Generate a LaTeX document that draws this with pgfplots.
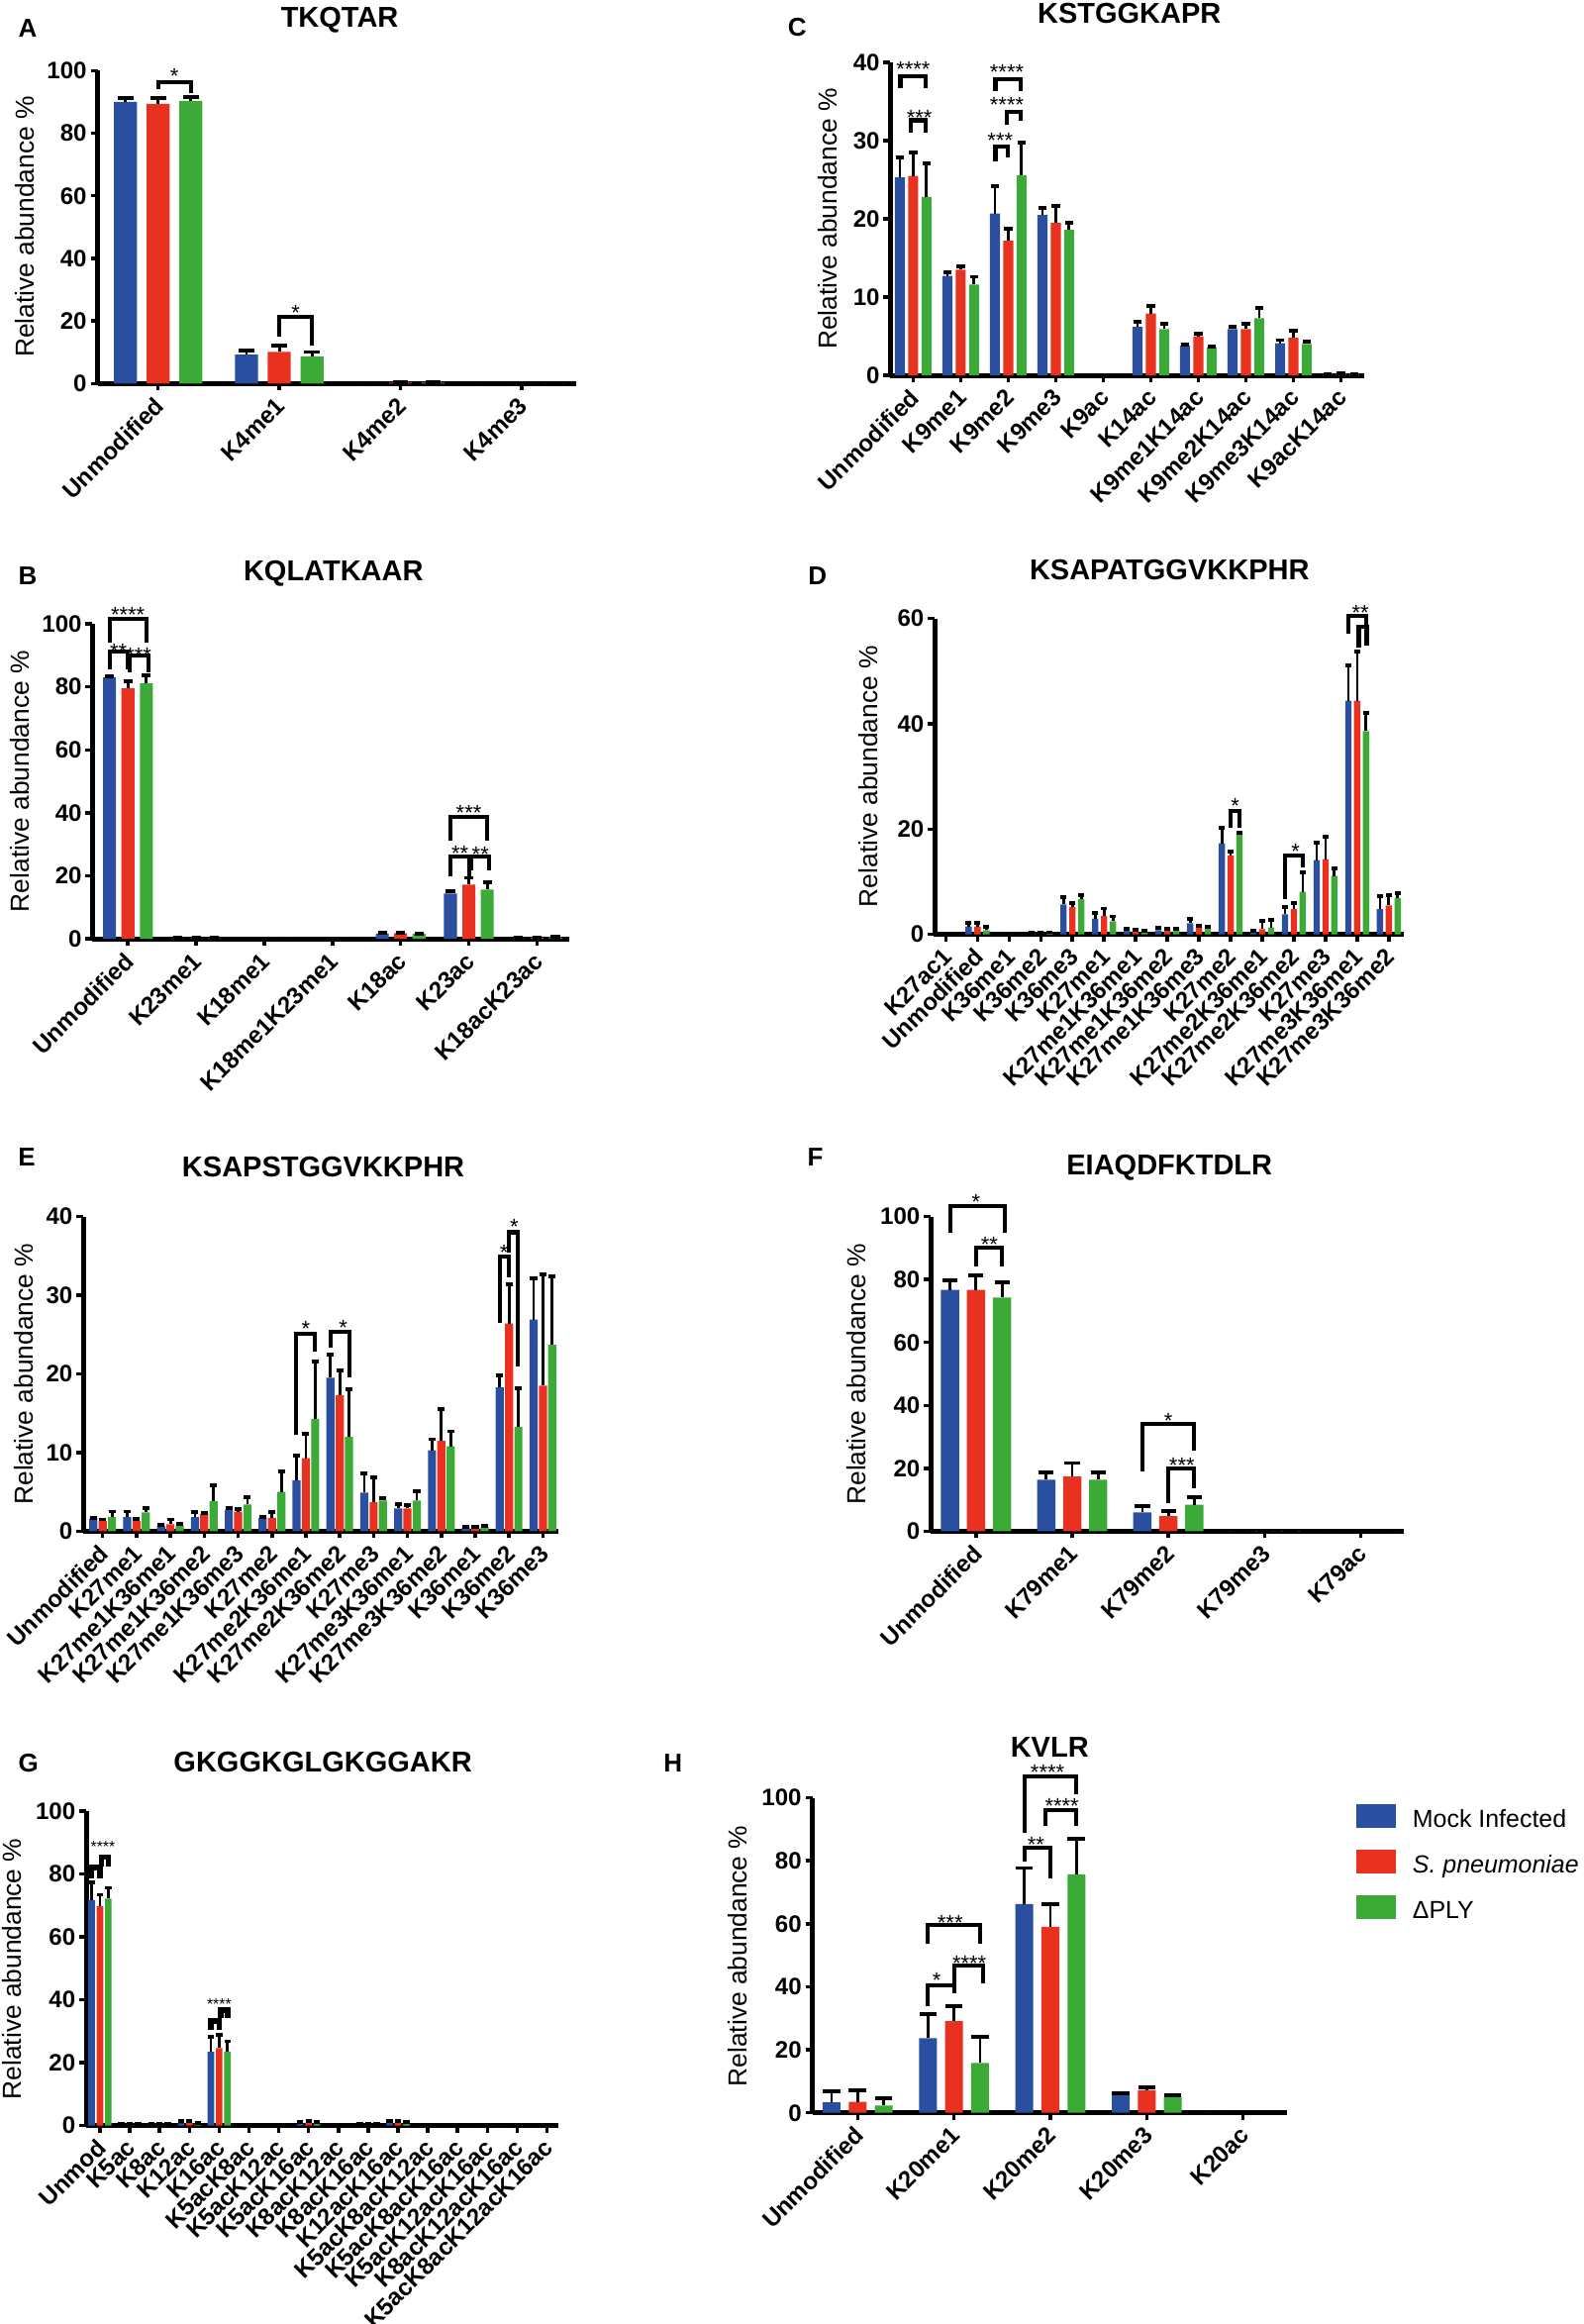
\documentclass[border=0pt]{standalone}
\usepackage{fontspec}
\setmainfont{Liberation Sans}
\usepackage{pgfplots}
\usepackage{pgfplotstable}
\pgfplotsset{compat=1.18}
\definecolor{cblue}{HTML}{2B4FA0}
\definecolor{cred}{HTML}{E8321F}
\definecolor{cgreen}{HTML}{3CAA37}
\newcommand\tickf{\fontsize{13.7}{15}\selectfont\bfseries}
\newcommand\ylabf{\fontsize{15}{17}\selectfont}
\newcommand\titf{\fontsize{16.5}{18}\selectfont\bfseries}
\newcommand\letf{\fontsize{14.8}{16}\selectfont\bfseries}
\newcommand\legf{\fontsize{14.2}{16}\selectfont}
\newcommand\starf{\fontsize{12.5}{14}\selectfont}
\newcommand\smstarf{\fontsize{9}{10}\selectfont}
\newcommand\brklw{2.3pt}

\pgfplotsset{
  gp/.style={
    scale only axis, anchor=south west, clip=false,
    axis x line*=bottom, axis y line*=left,
    axis line style={-, line width=2.8pt},
    ymin=0, enlargelimits=false,
    tick align=outside, major tick length=0.14cm,
    every tick/.style={black, line width=2pt},
    minor tick num=0,
    ybar, bar shift=0pt,
    error bars/y dir=plus, error bars/y explicit,
    error bars/error bar style={line width=1.6pt, black},
    /pgf/number format/assume math mode=true,
    yticklabel style={font=\tickf, inner sep=2pt},
    xticklabel style={font=\tickf, xshift=0.06cm, yshift=-0.2cm, rotate=45, anchor=east, inner sep=1pt},
  },
  cap/.style={error bars/error mark options={rotate=90, line width=2.2pt, black, mark size=#1}},
}
\tikzset{
  brk/.style={line width=\brklw, black},
  st/.style={font=\starf, inner sep=0pt, yshift=-0.1cm},
}
\newcommand{\off}{0.27}
\newcommand{\bars}[1]{%
 \addplot[fill=cblue, draw=none, bar shift=0pt] table[x expr=\thisrow{x}-\off, y=b, y error=be]{#1};
 \addplot[fill=cred, draw=none, bar shift=0pt] table[x=x, y=r, y error=re]{#1};
 \addplot[fill=cgreen, draw=none, bar shift=0pt] table[x expr=\thisrow{x}+\off, y=g, y error=ge]{#1};
}
\newcommand{\brk}[5]{\draw[brk] (axis cs:#1,#2) -- (axis cs:#1,#5) -- (axis cs:#3,#5) -- (axis cs:#3,#4);}
\newcommand{\sig}[3]{\node[st] at (axis cs:#1,#2) {#3};}

\pgfplotstableread{
x b be r re g ge
0 90.0 1.1 89.4 1.9 90.3 1.3
1 9.3 1.2 10.1 2.0 8.7 1.4
2 0.0 0.0 0.3 0.1 0.3 0.1
3 0 0 0 0 0 0
}\tA
\pgfplotstableread{
x b be r re g ge
0 25.3 2.6 25.5 3.0 22.8 4.3
1 12.7 0.5 13.5 0.4 11.6 1.0
2 20.7 3.5 17.2 1.5 25.6 4.1
3 20.5 0.9 19.5 2.1 18.6 0.9
4 0 0 0 0 0 0
5 6.2 0.7 7.9 1.0 5.9 0.7
6 3.8 0.1 5.0 0.3 3.6 0.1
7 5.9 0.3 5.9 0.7 7.3 1.3
8 4.1 0.4 4.8 0.9 4.0 0.3
9 0.1 0.05 0.2 0.05 0.1 0.05
}\tC
\pgfplotstableread{
x b be r re g ge
0 83.0 0.4 79.5 2.4 81.1 2.6
1 0.2 0.1 0.2 0.1 0.2 0.1
2 0 0 0 0 0 0
3 0 0 0 0 0 0
4 1.7 0.3 1.8 0.2 1.7 0
5 14.4 0.8 17.2 2.2 15.7 2.3
6 0.2 0.1 0.4 0.1 0.5 0.1
}\tB
\pgfplotstableread{
x b be r re g ge
0 0 0 0 0 0 0
1 1.5 0.7 1.5 0.7 0.8 0.7
2 0.1 0.05 0.1 0.05 0.1 0.05
3 0.2 0.1 0.2 0.1 0.3 0.1
4 5.7 1.4 5.2 0.8 6.7 0.8
5 3.0 1.0 3.5 1.4 2.5 0.9
6 0.8 0.3 0.5 0.3 0.5 0.2
7 0.8 0.4 0.8 0.2 0.8 0.2
8 2.1 0.9 1.3 0.4 1.1 0.4
9 17.3 2.9 15.0 0.8 19.2 0.1
10 0.5 0.2 1.0 1.5 1.3 1.5
11 3.8 1.4 4.8 1.2 8.1 3.7
12 14.1 3.4 14.3 4.3 11.1 1.5
13 44.4 6.7 44.4 9.4 38.6 3.5
14 4.8 2.5 5.5 1.9 6.9 1.0
}\tD
\pgfplotstableread{
x b be r re g ge
0 1.6 0.1 1.3 0.2 1.8 0.7
1 1.8 0.7 1.3 0.3 2.4 0.5
2 0.7 0.1 0.9 0.6 0.7 0.2
3 1.8 0.6 2.2 0.1 3.8 2.0
4 2.7 0.2 2.5 0.3 3.4 0.9
5 1.7 0.1 1.7 0.7 5.0 2.6
6 6.5 3.1 9.3 3.1 14.3 7.3
7 19.5 3.0 17.3 3.1 12.0 6.1
8 4.9 2.5 3.7 3.1 3.9 0.3
9 2.9 0.5 2.9 0.4 3.9 1.2
10 10.3 1.4 11.5 4.0 10.8 1.9
11 0.4 0.2 0.4 0.2 0.5 0.2
12 18.3 1.5 26.4 5.0 13.3 4.9
13 26.9 5.2 18.5 14.2 23.7 8.7
}\tE
\pgfplotstableread{
x b be r re g ge
0 76.7 3.1 76.7 4.5 74.3 4.9
1 16.4 2.3 17.4 4.3 16.4 2.3
2 6.0 1.9 4.8 1.7 8.4 2.4
3 0.2 0.05 0.2 0.05 0.2 0.05
4 0 0 0 0 0 0
}\tF
\pgfplotstableread{
x b be r re g ge
0 71.7 5.7 69.8 3.6 72.2 3.4
1 0.3 0.1 0.3 0.1 0.3 0.1
2 0.4 0.1 0.3 0.1 0.3 0.1
3 0.7 0.6 0.8 0.6 0.5 0.4
4 23.4 4.9 24.6 4.1 23.4 3.4
5 0 0 0 0 0 0
6 0.2 0.1 0.2 0.1 0.2 0.1
7 0.5 0.5 0.8 0.5 0.6 0.4
8 0 0 0 0 0 0
9 0.3 0.1 0.3 0.1 0.3 0.1
10 0.9 0.5 1.0 0.4 0.7 0.4
11 0 0 0 0 0 0
12 0 0 0 0 0 0
13 0.2 0.1 0.2 0.1 0.2 0.1
14 0.1 0.05 0.2 0.1 0.1 0.05
15 0 0 0 0 0 0
}\tG
\pgfplotstableread{
x b be r re g ge
0 3.3 3.6 3.5 3.6 2.3 2.4
1 23.7 7.6 29.1 4.8 15.8 8.2
2 66.3 11.4 59.0 7.3 75.7 11.3
3 5.7 0.6 7.2 1.0 5.1 0.6
4 0.3 0.1 0 0 0 0
}\tH

\begin{document}
\begin{tikzpicture}
\path[use as bounding box] (0,0) rectangle (31.98cm,-46.94cm);

% ---------- A ----------
\renewcommand{\off}{0.27}
\begin{axis}[gp, cap=4.5pt, at={(1.97cm,-7.748cm)}, width=9.67cm, height=6.322cm,
  xmin=-0.5, xmax=3.45, ymax=100, ytick={0,20,...,100}, bar width=0.19,
  xtick={0,...,3}, xticklabels={Unmodified,K4me1,K4me2,K4me3}]
\bars{\tA}
\brk{0}{94.2}{0.27}{92.7}{96.3}\sig{0.135}{99.7}{*}
\brk{1}{15.0}{1.27}{12.2}{21.3}\sig{1.135}{24.2}{*}
\end{axis}

% ---------- C ----------
\renewcommand{\off}{0.28}
\begin{axis}[gp, cap=2.5pt, at={(17.988cm,-7.582cm)}, width=9.562cm, height=6.322cm,
  xmin=-0.48, xmax=9.48, ymax=40, ytick={0,10,...,40}, bar width=0.21,
  xtick={0,...,9}, xticklabels={Unmodified,K9me1,K9me2,K9me3,K9ac,K14ac,K9me1K14ac,K9me2K14ac,K9me3K14ac,K9acK14ac}]
\bars{\tC}
\brk{-0.27}{36.7}{0.27}{36.7}{38.2}\sig{0}{39.7}{****}
\brk{-0.05}{31.0}{0.27}{31.0}{32.6}\sig{0.13}{33.6}{***}
\brk{1.73}{36.3}{2.27}{36.3}{37.9}\sig{1.97}{39.4}{****}
\brk{1.97}{32.0}{2.27}{32.5}{33.7}\sig{1.97}{35.2}{****}
\brk{1.73}{27.4}{2.0}{27.9}{29.3}\sig{1.83}{30.6}{***}
\end{axis}

% ---------- B ----------
\renewcommand{\off}{0.27}
\begin{axis}[gp, cap=2.6pt, at={(1.868cm,-18.964cm)}, width=9.642cm, height=6.364cm,
  xmin=-0.52, xmax=6.48, ymax=100, ytick={0,20,...,100}, bar width=0.19,
  xtick={0,...,6}, xticklabels={Unmodified,K23me1,K18me1,K18me1K23me1,K18ac,K23ac,K18acK23ac}]
\bars{\tB}
\brk{-0.27}{94}{0.27}{94}{101.7}\sig{0}{104.5}{****}
\brk{-0.27}{85.6}{0}{85.6}{91.2}\sig{-0.14}{92.8}{**}
\brk{0.03}{84.5}{0.3}{84.5}{89.9}\sig{0.16}{91.5}{***}
\brk{4.73}{31.2}{5.27}{31.2}{38.8}\sig{5}{41.6}{***}
\brk{4.73}{20}{5}{20}{26.1}\sig{4.87}{28.6}{**}
\brk{5.03}{21.7}{5.3}{21.7}{26.1}\sig{5.17}{28.4}{**}
\end{axis}

% ---------- D ----------
\renewcommand{\off}{0.28}
\begin{axis}[gp, cap=1.7pt, at={(18.884cm,-18.872cm)}, width=9.48cm, height=6.38cm,
  xmin=-0.35, xmax=14.48, ymax=60, ytick={0,20,40,60}, bar width=0.2,
  xtick={0,...,14}, xticklabels={K27ac1,Unmodified,K36me1,K36me2,K36me3,K27me1,K27me1K36me1,K27me1K36me2,K27me1K36me3,K27me2,K27me2K36me1,K27me2K36me2,K27me3,K27me3K36me1,K27me3K36me2}]
\bars{\tD}
\brk{9.0}{20.2}{9.28}{20.2}{23.5}\sig{9.14}{25.4}{*}
\brk{10.72}{6.7}{11.28}{12.8}{14.9}\sig{11.05}{16.6}{*}
\brk{12.72}{57.1}{13.28}{57.5}{60.5}
\brk{13.05}{54.4}{13.3}{54.8}{58.4}\sig{13.1}{62.0}{**}
\end{axis}

% ---------- E ----------
\renewcommand{\off}{0.275}
\begin{axis}[gp, cap=2pt, at={(1.684cm,-30.928cm)}, width=9.592cm, height=6.356cm,
  xmin=-0.57, xmax=13.45, ymax=40, ytick={0,10,...,40}, bar width=0.24,
  xtick={0,...,13}, xticklabels={Unmodified,K27me1,K27me1K36me1,K27me1K36me2,K27me1K36me3,K27me2,K27me2K36me1,K27me2K36me2,K27me3,K27me3K36me1,K27me3K36me2,K36me1,K36me2,K36me3}]
\bars{\tE}
\brk{5.7}{12.3}{6.27}{22.8}{25.1}\sig{6}{26.4}{*}
\brk{6.73}{23.3}{7.3}{19.5}{25.4}\sig{7.1}{26.5}{*}
\brk{11.73}{26.5}{12.0}{32.3}{34.9}\sig{11.85}{36.1}{*}
\brk{12.0}{35.4}{12.27}{20.9}{38.0}\sig{12.15}{39.3}{*}
\end{axis}

% ---------- F ----------
\renewcommand{\off}{0.27}
\begin{axis}[gp, cap=4.3pt, at={(18.804cm,-30.928cm)}, width=9.56cm, height=6.356cm,
  xmin=-0.47, xmax=4.45, ymax=100, ytick={0,20,...,100}, bar width=0.19,
  xtick={0,...,4}, xticklabels={Unmodified,K79me1,K79me2,K79me3,K79ac}]
\bars{\tF}
\brk{-0.27}{94.7}{0.3}{94.7}{103.4}\sig{0}{106.1}{*}
\brk{0}{84}{0.27}{84}{90}\sig{0.14}{92.6}{**}
\brk{1.73}{18.9}{2.27}{25.6}{34}\sig{2}{36.7}{*}
\brk{2.0}{8.8}{2.27}{13.8}{20}\sig{2.14}{22.4}{***}
\end{axis}

% ---------- G ----------
\renewcommand{\off}{0.28}
\renewcommand{\brklw}{3.2pt}
\begin{axis}[gp, cap=1.8pt, at={(1.742cm,-42.93cm)}, width=9.538cm, height=6.35cm,
  xmin=-0.46, xmax=15.38, ymax=100, ytick={0,20,...,100}, bar width=0.22,
  xtick={0,...,15}, xticklabels={Unmod,K5ac,K8ac,K12ac,K16ac,K5acK8ac,K5acK12ac,K5acK16ac,K8acK12ac,K8acK16ac,K12acK16ac,K5acK8acK12ac,K5acK8acK16ac,K5acK12acK16ac,K8acK12acK16ac,K5acK8acK12acK16ac}]
\bars{\tG}
\brk{-0.28}{78.7}{0}{78.7}{82}
\brk{0.05}{82.3}{0.28}{82.3}{85.4}
\node[st, font=\smstarf] at (axis cs:0.1,90.2) {****};
\brk{3.72}{30.5}{4.0}{30.5}{33.3}
\brk{4.05}{34.1}{4.28}{34.1}{36.8}
\node[st, font=\smstarf] at (axis cs:4.0,40.2) {****};
\end{axis}
\renewcommand{\brklw}{2.3pt}

% ---------- H ----------
\renewcommand{\off}{0.27}
\begin{axis}[gp, cap=5pt, at={(16.41cm,-42.674cm)}, width=9.58cm, height=6.364cm,
  xmin=-0.47, xmax=4.45, ymax=100, ytick={0,20,...,100}, bar width=0.185,
  xtick={0,...,4}, xticklabels={Unmodified,K20me1,K20me2,K20me3,K20ac},
  legend style={at={(rel axis cs:1.1472,0.981)}, anchor=north west, draw=none, fill=none,
    inner sep=0pt, row sep=0.44cm, font=\legf, nodes={inner sep=0pt, text depth=0pt},
    /tikz/every odd column/.append style={column sep=0.33cm}},
  legend cell align=left,
  legend image code/.code={\path[use as bounding box] (0cm,0cm) rectangle (0.8cm,0.297cm);
    \fill[#1] (0cm,-0.189cm) rectangle (0.8cm,0.297cm);}]
\bars{\tH}
\legend{Mock Infected,\textit{S. pneumoniae},ΔPLY}
\brk{0.73}{53.8}{1.27}{53.8}{59.6}\sig{0.96}{61.9}{***}
\brk{0.73}{33.7}{1.0}{38}{40.6}\sig{0.82}{43.6}{*}
\brk{1.0}{41}{1.3}{41}{46.7}\sig{1.16}{49}{****}
\brk{1.73}{89}{2.27}{101.2}{106.7}\sig{1.97}{109.6}{****}
\brk{1.95}{90.9}{2.27}{90.9}{96.1}\sig{2.12}{99}{****}
\brk{1.73}{79.7}{2.0}{74.5}{84}\sig{1.85}{86.6}{**}
\end{axis}

% ---------- texts ----------
\begin{scope}[x=0.02cm,y=-0.02cm]
\node[font=\titf] at (343,20.6) {TKQTAR};
\node[font=\titf] at (1140.5,13.3) {KSTGGKAPR};
\node[font=\titf] at (336.7,579.3) {KQLATKAAR};
\node[font=\titf] at (1181,575.7) {KSAPATGGVKKPHR};
\node[font=\titf] at (326.5,1178.6) {KSAPSTGGVKKPHR};
\node[font=\titf] at (1181,1178.6) {EIAQDFKTDLR};
\node[font=\titf] at (326,1778.7) {GKGGKGLGKGGAKR};
\node[font=\titf] at (1060,1764) {KVLR};
\node[font=\letf] at (28,28.5) {A};
\node[font=\letf] at (805,28) {C};
\node[font=\letf] at (28,581) {B};
\node[font=\letf] at (825.5,581) {D};
\node[font=\letf] at (27,1168) {E};
\node[font=\letf] at (823.4,1168) {F};
\node[font=\letf] at (28.8,1780.6) {G};
\node[font=\letf] at (679.5,1780.6) {H};
\node[font=\ylabf, rotate=90] at (25.5,229) {Relative abundance \%};
\node[font=\ylabf, rotate=90] at (20.4,789) {Relative abundance \%};
\node[font=\ylabf, rotate=90] at (835.7,221) {Relative abundance \%};
\node[font=\ylabf, rotate=90] at (876.5,784) {Relative abundance \%};
\node[font=\ylabf, rotate=90] at (23.7,1387.5) {Relative abundance \%};
\node[font=\ylabf, rotate=90] at (864.5,1387.5) {Relative abundance \%};
\node[font=\ylabf, rotate=90] at (11.6,1988) {Relative abundance \%};
\node[font=\ylabf, rotate=90] at (745.3,1975) {Relative abundance \%};
\end{scope}
\end{tikzpicture}
\end{document}
